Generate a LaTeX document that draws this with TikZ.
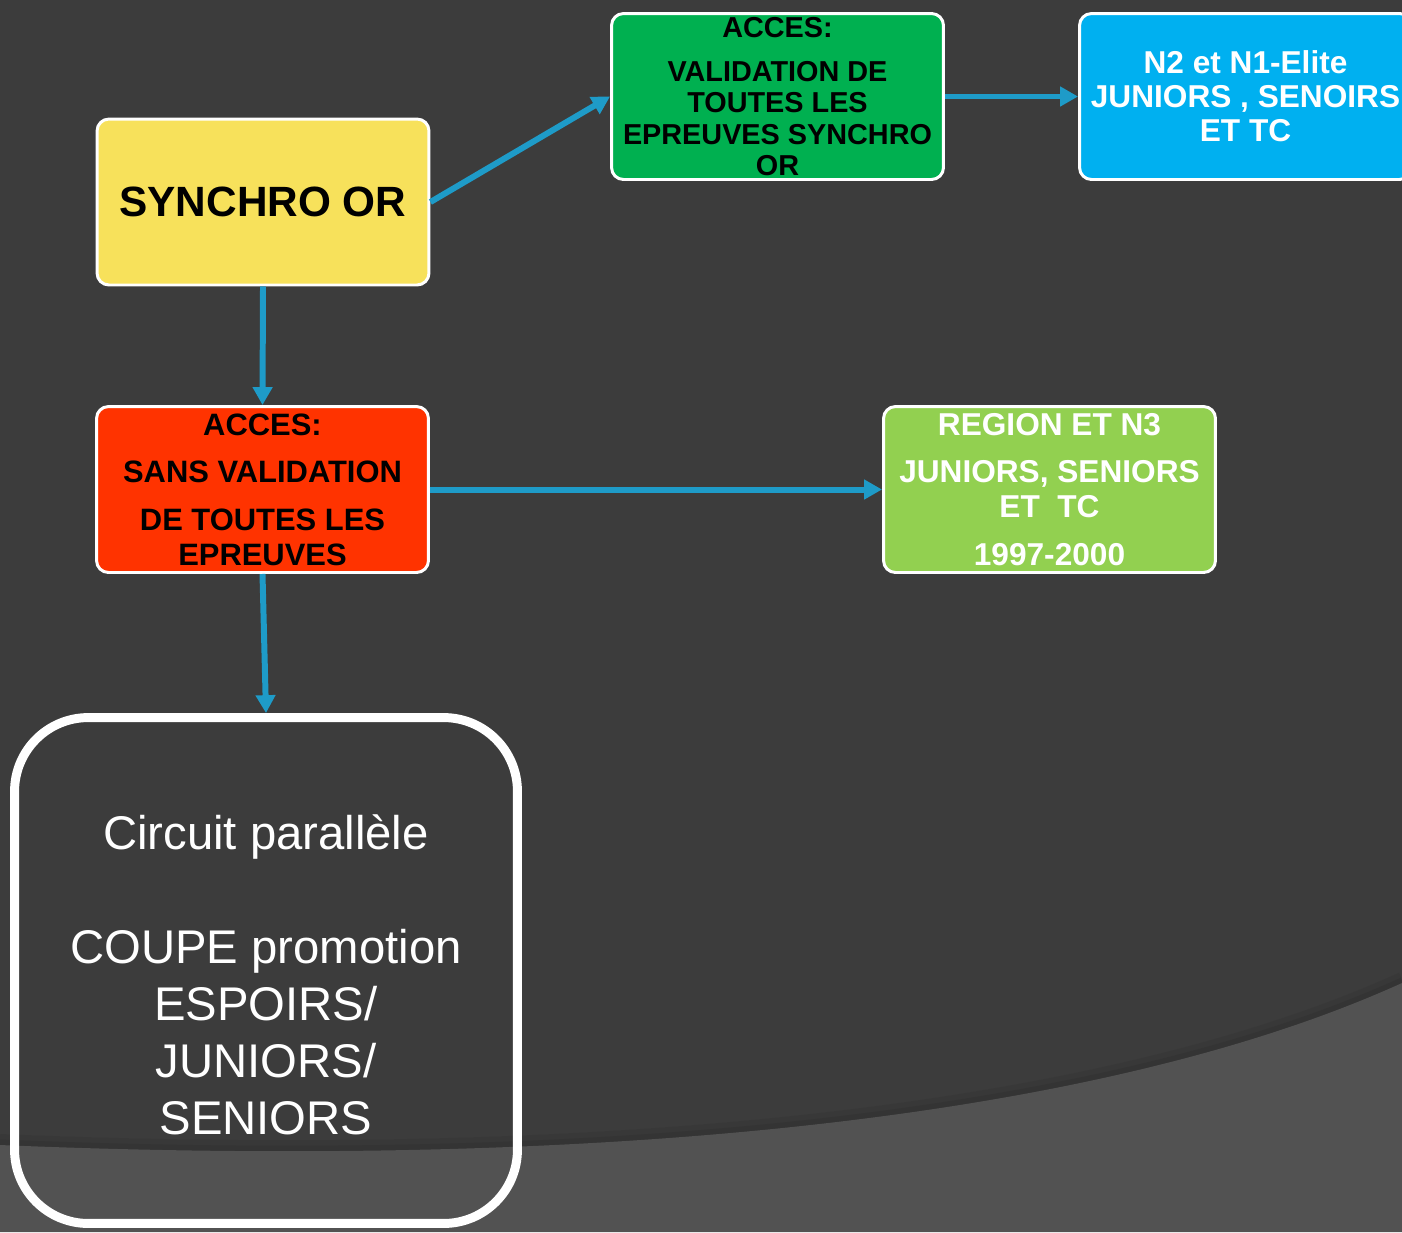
\documentclass[tikz,border=0pt]{standalone}
\usepackage{fontspec}
\setmainfont{Liberation Sans}
\usetikzlibrary{arrows.meta}
\definecolor{fond}{HTML}{3C3C3C}
\definecolor{fondclair}{HTML}{525252}
\definecolor{jaune}{HTML}{F7E15B}
\definecolor{vert}{HTML}{00B050}
\definecolor{bleu}{HTML}{00B0F0}
\definecolor{rouge}{HTML}{FF3300}
\definecolor{vertclair}{HTML}{92D050}
\definecolor{fleche}{HTML}{1E9BC8}
\tikzset{
	boite/.style={draw=white, line width=1.7pt, rounded corners=6.8pt, minimum width=6.64cm, minimum height=3.32cm, inner sep=0pt, align=center},
	lien/.style={draw=fleche, line width=3.4pt, -{Triangle[length=10.2pt, width=10.8pt]}},
}

\begin{document}
\begin{tikzpicture}[x=0.02cm, y=-0.02cm]
			%%%%% START %%%%%
			
			\useasboundingbox (0, 0) rectangle (1402, 1232);
			\clip (0, 0) rectangle (1402, 1232);
			\fill[fond] (0, 0) rectangle (1402, 1232);
			\draw[line width=8pt, color=black, opacity=0.05] (0, 1141) .. controls (600, 1166) and (1100, 1116) .. (1402, 979);
			\draw[line width=4pt, color=black, opacity=0.06] (0, 1143) .. controls (600, 1168) and (1100, 1118) .. (1402, 981);
			\fill[fondclair] (0, 1145) .. controls (600, 1170) and (1100, 1120) .. (1402, 983) -- (1402, 1232) -- (0, 1232) -- cycle;
			
			\node[boite, fill=jaune, text=black, font=\bfseries\fontsize{24.1}{29}\selectfont] (synchro) at (263, 202) {SYNCHRO OR};
			
			\node[boite, fill=vert, text=black, font=\bfseries\fontsize{16.4}{17.9}\selectfont] (acces) at (777.5, 96.5) {ACCES:\\[7pt]VALIDATION DE\\TOUTES LES\\EPREUVES SYNCHRO\\OR};
			
			\node[boite, fill=bleu, text=white, font=\bfseries\fontsize{18}{19.3}\selectfont] (elite) at (1245.5, 96.5) {N2 et N1-Elite\\JUNIORS , SENOIRS\\ET TC};
			
			\node[boite, fill=rouge, text=black, font=\bfseries\fontsize{17.6}{19.8}\selectfont] (sans) at (262.5, 489.5) {ACCES:\\[7pt]SANS VALIDATION\\[7.5pt]DE TOUTES LES\\EPREUVES};
			
			\node[boite, fill=vertclair, text=white, font=\bfseries\fontsize{18}{19.8}\selectfont] (region) at (1049.5, 489.5) {REGION ET N3\\[7pt]JUNIORS, SENIORS\\ET\ \ TC\\[7.5pt]1997-2000};
			
			\node[draw=white, line width=5.1pt, rounded corners=42pt, minimum width=10.06cm, minimum height=10.12cm, inner sep=0pt, align=center, text=white, font=\fontsize{26.9}{32.4}\selectfont] (circuit) at (266, 970.5) {\rule{0pt}{25pt}Circuit parallèle\\[32.4pt]COUPE promotion\\ESPOIRS/\\JUNIORS/\\SENIORS};
			
			\draw[lien] (synchro.east) -- (acces.west);
			\draw[lien] (acces.east) -- (elite.west);
			\draw[lien] (synchro.south) -- (sans.north);
			\draw[lien] (sans.east) -- (region.west);
			\draw[lien] (sans.south) -- (circuit.north);
			
			%%%%% END %%%%%
\end{tikzpicture}
\end{document}
